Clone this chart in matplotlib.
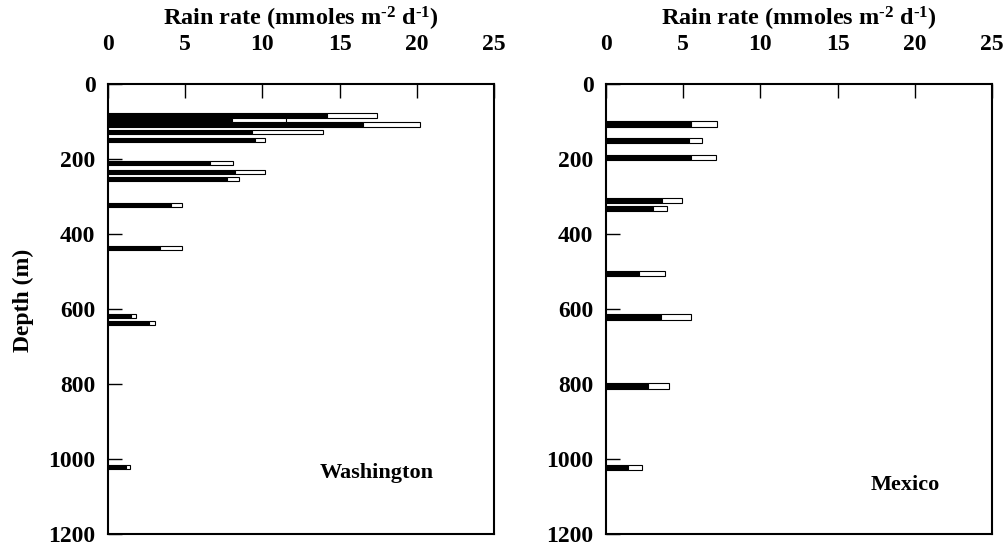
import matplotlib
matplotlib.use('Agg')
import matplotlib.pyplot as plt

plt.rcParams['font.family'] = ['Liberation Serif', 'DejaVu Serif']
plt.rcParams['font.weight'] = 'bold'
plt.rcParams['mathtext.fontset'] = 'custom'
plt.rcParams['mathtext.rm'] = 'Liberation Serif:bold'
plt.rcParams['mathtext.it'] = 'Liberation Serif:bold'
plt.rcParams['mathtext.bf'] = 'Liberation Serif:bold'

# Washington: depth (m), black part, total (black + white)
wa_depth = [84, 95, 108, 128, 149, 211, 235, 253, 322, 438, 618, 638, 1021]
wa_black = [14.2, 8.0, 16.5, 9.3, 9.5, 6.6, 8.2, 7.7, 4.1, 3.4, 1.5, 2.65, 1.15]
wa_total = [17.4, 11.5, 20.2, 13.9, 10.2, 8.1, 10.2, 8.5, 4.8, 4.8, 1.8, 3.06, 1.42]

# Mexico
mx_depth = [107, 151, 197, 310, 332, 505, 621, 805, 1023]
mx_black = [5.5, 5.35, 5.5, 3.6, 3.07, 2.16, 3.55, 2.7, 1.4]
mx_total = [7.2, 6.2, 7.15, 4.9, 3.94, 3.83, 5.52, 4.05, 2.35]

xticks = [0, 5, 10, 15, 20, 25]
yticks = [0, 200, 400, 600, 800, 1000, 1200]
xlabel = r'Rain rate (mmoles m$^{\text{-2}}$ d$^{\text{-1}}$)'

fig = plt.figure(figsize=(10.06, 5.48), dpi=100)
ax1 = fig.add_axes([108/1006, 14/548, 386/1006, 450/548])
ax2 = fig.add_axes([606/1006, 14/548, 386/1006, 450/548])


def draw(ax, depth, black, total, h, name, pos):
    white = [t - b for t, b in zip(total, black)]
    ax.barh(depth, black, height=h, color='black', edgecolor='black', linewidth=0.8)
    ax.barh(depth, white, left=black, height=h, color='white', edgecolor='black', linewidth=0.8)
    ax.set_xlim(0, 25)
    ax.set_ylim(1200, 0)
    ax.set_xticks(xticks)
    ax.set_yticks(yticks)
    ax.xaxis.tick_top()
    ax.tick_params(axis='both', direction='in', length=10, width=1, labelsize=17)
    ax.tick_params(axis='y', pad=9)
    ax.tick_params(axis='x', pad=21)
    for sp in ax.spines.values():
        sp.set_linewidth(1.5)
    for lab in ax.get_xticklabels() + ax.get_yticklabels():
        lab.set_fontweight('bold')
    ax.text(0.5, 1 + 58/450, xlabel, transform=ax.transAxes, ha='center', va='baseline',
            fontsize=17.5, fontweight='bold')
    ax.text(pos[0], pos[1], name, transform=ax.transAxes, ha='center', va='center',
            fontsize=16, fontweight='bold')


draw(ax1, wa_depth, wa_black, wa_total, 11, 'Washington', (0.697, 0.136))
draw(ax2, mx_depth, mx_black, mx_total, 14, 'Mexico', (0.775, 0.109))
ax1.set_ylabel('Depth (m)', fontsize=17, fontweight='bold')
ax1.yaxis.set_label_coords(-(108 - 34)/386, 0.52)

fig.savefig('out.png', dpi=100)
